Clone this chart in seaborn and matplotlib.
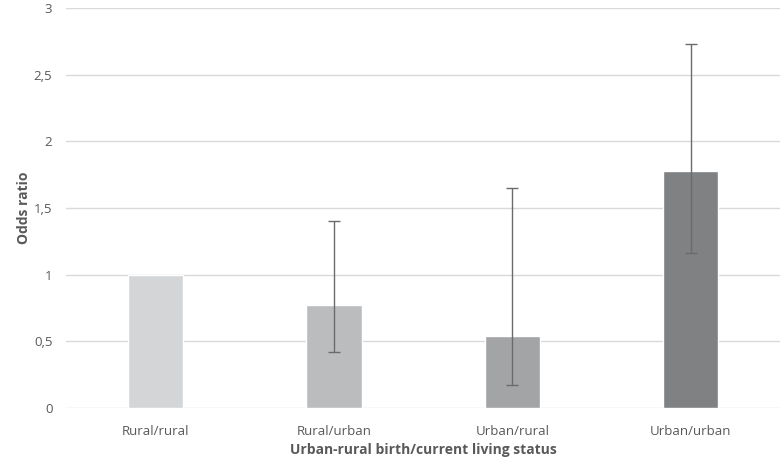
import pandas as pd
import seaborn as sns
import matplotlib.pyplot as plt
import numpy as np

groups = ["Rural/rural", "Rural/urban", "Urban/rural", "Urban/urban"]
odds = [1.0, 0.77, 0.54, 1.78]
ci_low = [np.nan, 0.42, 0.17, 1.16]
ci_high = [np.nan, 1.40, 1.65, 2.73]
bar_colors = ["#d4d5d7", "#bbbcbe", "#a3a4a6", "#808183"]

df = pd.DataFrame({"group": groups, "odds": odds, "lo": ci_low, "hi": ci_high})

sns.set_style("white")
plt.rcParams["font.family"] = ["Open Sans", "DejaVu Sans"]

fig, ax = plt.subplots(figsize=(7.8, 4.68), dpi=100)
fig.subplots_adjust(left=0.085, right=1.0, bottom=0.128, top=0.983)

sns.barplot(data=df, x="group", y="odds", hue="group", palette=bar_colors,
            width=0.31, legend=False, ax=ax, zorder=2)

# confidence intervals (none for the reference group)
xpos = np.arange(len(groups))
mask = df["lo"].notna().to_numpy()
yerr = np.vstack([df["odds"] - df["lo"], df["hi"] - df["odds"]])[:, mask]
ax.errorbar(xpos[mask], df["odds"][mask], yerr=yerr, fmt="none",
            ecolor="#6b6b6b", elinewidth=1, capsize=4.5, capthick=1, zorder=3)

ax.set_xlim(-0.5, len(groups) - 0.5)
ax.set_ylim(0, 3)
ax.set_yticks(np.arange(0, 3.01, 0.5))
ax.set_yticklabels(["0", "0,5", "1", "1,5", "2", "2,5", "3"])
ax.yaxis.grid(True, color="#d9d9d9", linewidth=1, zorder=0)
ax.set_axisbelow(True)
for s in ax.spines.values():
    s.set_visible(False)
ax.tick_params(axis="both", length=0, labelsize=9.5, labelcolor="#595959")
ax.tick_params(axis="x", pad=12)
ax.tick_params(axis="y", pad=10)

ax.set_xlabel("Urban-rural birth/current living status", fontsize=10,
              fontweight="bold", color="#595959", labelpad=4)
ax.set_ylabel("Odds ratio", fontsize=10, fontweight="bold", color="#595959",
              labelpad=2)

plt.savefig("out.png")
